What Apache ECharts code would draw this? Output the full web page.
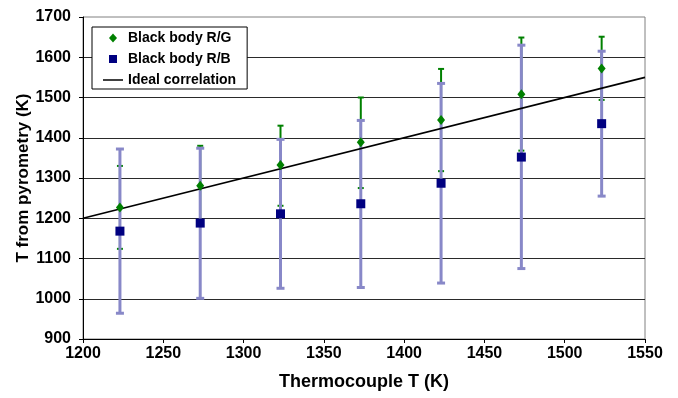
<!DOCTYPE html>
<html>
<head>
<meta charset="utf-8">
<script src="https://cdn.jsdelivr.net/npm/echarts@6/dist/echarts.min.js"></script>
<style>html,body{margin:0;padding:0;background:#fff}#c{width:678px;height:398px}</style>
</head>
<body>
<div id="c"></div>
<script>
// Thermocouple temperatures (K)
const thermoT = [1223, 1273, 1323, 1373, 1423, 1473, 1523];
// Black body R/G
const rgT    = [1227, 1281, 1332, 1389, 1444, 1508, 1572];
const rgLow  = [1124, 1182, 1231, 1275, 1317, 1368, 1494];
const rgHigh = [1330, 1380, 1430, 1500, 1571, 1649, 1651];
// Black body R/B
const rbT    = [1168, 1188, 1211, 1236, 1287, 1352, 1435];
const rbLow  = [964, 1001, 1026, 1028, 1039, 1075, 1255];
const rbHigh = [1372, 1374, 1396, 1443, 1535, 1630, 1615];
// Ideal correlation endpoints
const idealX = [1200, 1550];
const idealY = [1200, 1550];

const FONT = 'Liberation Sans, Arial, sans-serif';
const GREEN = '#008000', NAVY = '#000080', LAV = '#8888c8';

function errBar(color, barW, capW, capH) {
  return function (params, api) {
    const x = api.value(0), lo = api.value(1), hi = api.value(2);
    const p1 = api.coord([x, hi]), p2 = api.coord([x, lo]);
    return {
      type: 'group',
      children: [
        {type: 'line', shape: {x1: p1[0], y1: p1[1], x2: p2[0], y2: p2[1]}, style: {stroke: color, lineWidth: barW}},
        {type: 'rect', shape: {x: p1[0] - capW / 2, y: p1[1] - capH / 2, width: capW, height: capH}, style: {fill: color}},
        {type: 'rect', shape: {x: p2[0] - capW / 2, y: p2[1] - capH / 2, width: capW, height: capH}, style: {fill: color}}
      ]
    };
  };
}

const plain = v => String(v);

const chart = echarts.init(document.getElementById('c'), null, {renderer: 'canvas'});
chart.setOption({
  animation: false,
  backgroundColor: '#fff',
  textStyle: {fontFamily: FONT},
  grid: {left: 83, right: 33, top: 17, bottom: 59, show: true, borderColor: '#808080', borderWidth: 1, backgroundColor: 'transparent'},
  legend: {
    orient: 'vertical', left: 92, top: 27,
    padding: [4, 11, 2, 11], itemGap: 7, itemWidth: 20, itemHeight: 14,
    backgroundColor: '#fff', borderColor: '#000', borderWidth: 1,
    textStyle: {fontFamily: FONT, fontWeight: 'bold', fontSize: 14, color: '#000'},
    data: [
      {name: 'Black body R/G', icon: 'path://M0,0M20,14M10,2.5L14,7L10,11.5L6,7Z'},
      {name: 'Black body R/B', icon: 'path://M0,0M20,14M6,3L14,3L14,11L6,11Z'},
      {name: 'Ideal correlation', icon: 'path://M0,0M20,14M0,6.25L20,6.25L20,7.75L0,7.75Z'}
    ]
  },
  xAxis: {
    type: 'value', min: 1200, max: 1550, interval: 50,
    name: 'Thermocouple T (K)', nameLocation: 'middle', nameGap: 34, nameMoveOverlap: false,
    nameTextStyle: {fontFamily: FONT, fontWeight: 'bold', fontSize: 18, color: '#000'},
    axisLine: {show: true, onZero: false, lineStyle: {color: '#000', width: 1}},
    axisTick: {show: true, inside: false, length: 4, lineStyle: {color: '#000'}},
    axisLabel: {fontFamily: FONT, fontWeight: 'bold', fontSize: 16, color: '#000', margin: 7, formatter: plain},
    splitLine: {show: false}
  },
  yAxis: {
    type: 'value', min: 900, max: 1700, interval: 100,
    name: 'T from pyrometry (K)', nameLocation: 'middle', nameGap: 51, nameMoveOverlap: false,
    nameTextStyle: {fontFamily: FONT, fontWeight: 'bold', fontSize: 17, color: '#000'},
    axisLine: {show: true, lineStyle: {color: '#000', width: 1}},
    axisTick: {show: true, inside: false, length: 4, lineStyle: {color: '#000'}},
    axisLabel: {fontFamily: FONT, fontWeight: 'bold', fontSize: 16, color: '#000', margin: 12, formatter: plain},
    splitLine: {show: true, showMinLine: false, showMaxLine: false, lineStyle: {color: '#2a2a2a', width: 1}}
  },
  series: [
    {
      type: 'custom', name: 'errRG', silent: true, z: 2,
      renderItem: errBar(GREEN, 2, 6, 2),
      data: thermoT.map((x, i) => [x, rgLow[i], rgHigh[i]])
    },
    {
      type: 'custom', name: 'errRB', silent: true, z: 3,
      renderItem: errBar(LAV, 3, 8, 3),
      data: thermoT.map((x, i) => [x, rbLow[i], rbHigh[i]])
    },
    {
      type: 'line', name: 'Ideal correlation', z: 4,
      data: idealX.map((x, i) => [x, idealY[i]]),
      symbol: 'none', lineStyle: {color: '#000', width: 1.6}, itemStyle: {color: '#000'}
    },
    {
      type: 'scatter', name: 'Black body R/G', z: 5,
      symbol: 'diamond', symbolSize: [8, 10],
      itemStyle: {color: GREEN, opacity: 1},
      data: thermoT.map((x, i) => [x, rgT[i]])
    },
    {
      type: 'scatter', name: 'Black body R/B', z: 6,
      symbol: 'rect', symbolSize: 9,
      itemStyle: {color: NAVY, opacity: 1},
      data: thermoT.map((x, i) => [x, rbT[i]])
    }
  ]
});
</script>
</body>
</html>
